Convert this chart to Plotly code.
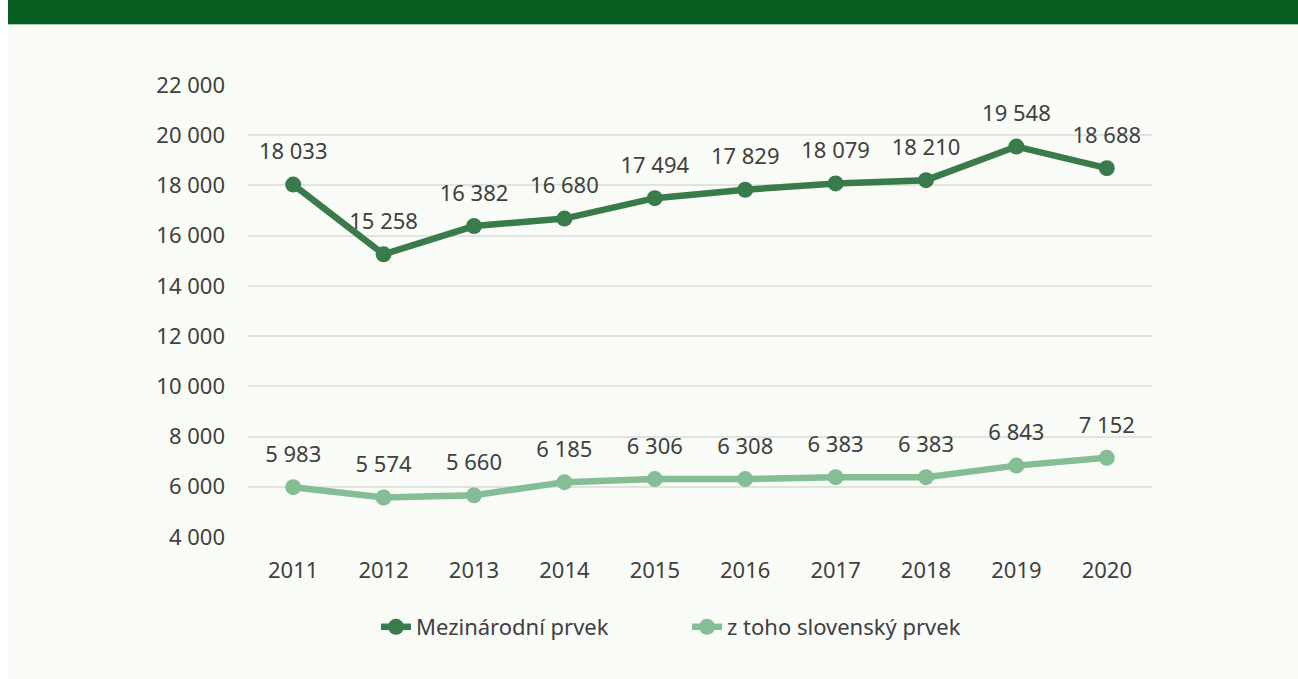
import plotly.graph_objects as go

years = ["2011", "2012", "2013", "2014", "2015", "2016", "2017", "2018", "2019", "2020"]
mezinarodni = [18033, 15258, 16382, 16680, 17494, 17829, 18079, 18210, 19548, 18688]
slovensky = [5983, 5574, 5660, 6185, 6306, 6308, 6383, 6383, 6843, 7152]
series_names = ["Mezinárodní prvek", "z toho slovenský prvek"]
y_ticks = [4000, 6000, 8000, 10000, 12000, 14000, 16000, 18000, 20000, 22000]

# page body margin is set to 8px on the left only; figure x = reference x - 8
W, H = 1290, 679
L, R, T, B = 240, 146, 85, 142
ph = H - T - B
pw = W - L - R

dark = "#3a7b4c"
light = "#85bd94"
txt = "#404040"
font_family = "Noto Sans, Open Sans, sans-serif"
fs = 22

def py(px):
    return (H - B - px) / ph

def px_x(px):
    return (px - L) / pw

def fmt(v):
    return f"{v:,}".replace(",", " ")

fig = go.Figure()
for name, vals, col in [(series_names[0], mezinarodni, dark), (series_names[1], slovensky, light)]:
    fig.add_trace(go.Scatter(
        x=years, y=vals, name=name, mode="lines+markers",
        line=dict(color=col, width=6.5),
        marker=dict(color=col, size=16),
        hoverinfo="x+y",
    ))
for vals in (mezinarodni, slovensky):
    fig.add_trace(go.Scatter(
        x=years, y=vals, mode="markers+text",
        text=[fmt(v) for v in vals], textposition="top center",
        textfont=dict(size=fs, color=txt, family=font_family),
        marker=dict(size=30, color="rgba(0,0,0,0)"),
        showlegend=False, hoverinfo="skip",
    ))

bg = "#f9fbf7"
fig.add_shape(type="rect", xref="paper", yref="paper",
              x0=px_x(0), x1=px_x(W), y0=py(24), y1=py(0),
              fillcolor="#065f20", line_width=0, layer="below")
fig.add_shape(type="line", xref="paper", yref="paper",
              x0=px_x(0), x1=px_x(W), y0=py(24.5), y1=py(24.5),
              line=dict(color="#a9cdb1", width=1), layer="below")

fig.update_layout(
    width=W, height=H,
    margin=dict(l=L, r=R, t=T, b=B),
    paper_bgcolor=bg, plot_bgcolor=bg,
    separators=", ",
    font=dict(family=font_family, size=fs, color=txt),
    showlegend=True,
    legend=dict(orientation="h", x=px_x(679), xanchor="center", y=py(627), yanchor="middle",
                font=dict(size=fs, color=txt), entrywidth=266, bgcolor="rgba(0,0,0,0)"),
    hovermode="closest",
)
fig.update_xaxes(type="category", range=[-0.5, 9.5], showgrid=False, zeroline=False,
                 showline=False, ticks="", tickfont=dict(size=fs, color=txt), ticklabelstandoff=18)
fig.update_yaxes(range=[4000, 22000], tickvals=y_ticks, tickformat=",d",
                 showgrid=True, gridcolor="#e2e2de", gridwidth=2, zeroline=False,
                 showline=False, ticks="", tickfont=dict(size=fs, color=txt), ticklabelstandoff=22)

fig.write_html("out.html", post_script="document.body.style.margin='0 0 0 8px';")
